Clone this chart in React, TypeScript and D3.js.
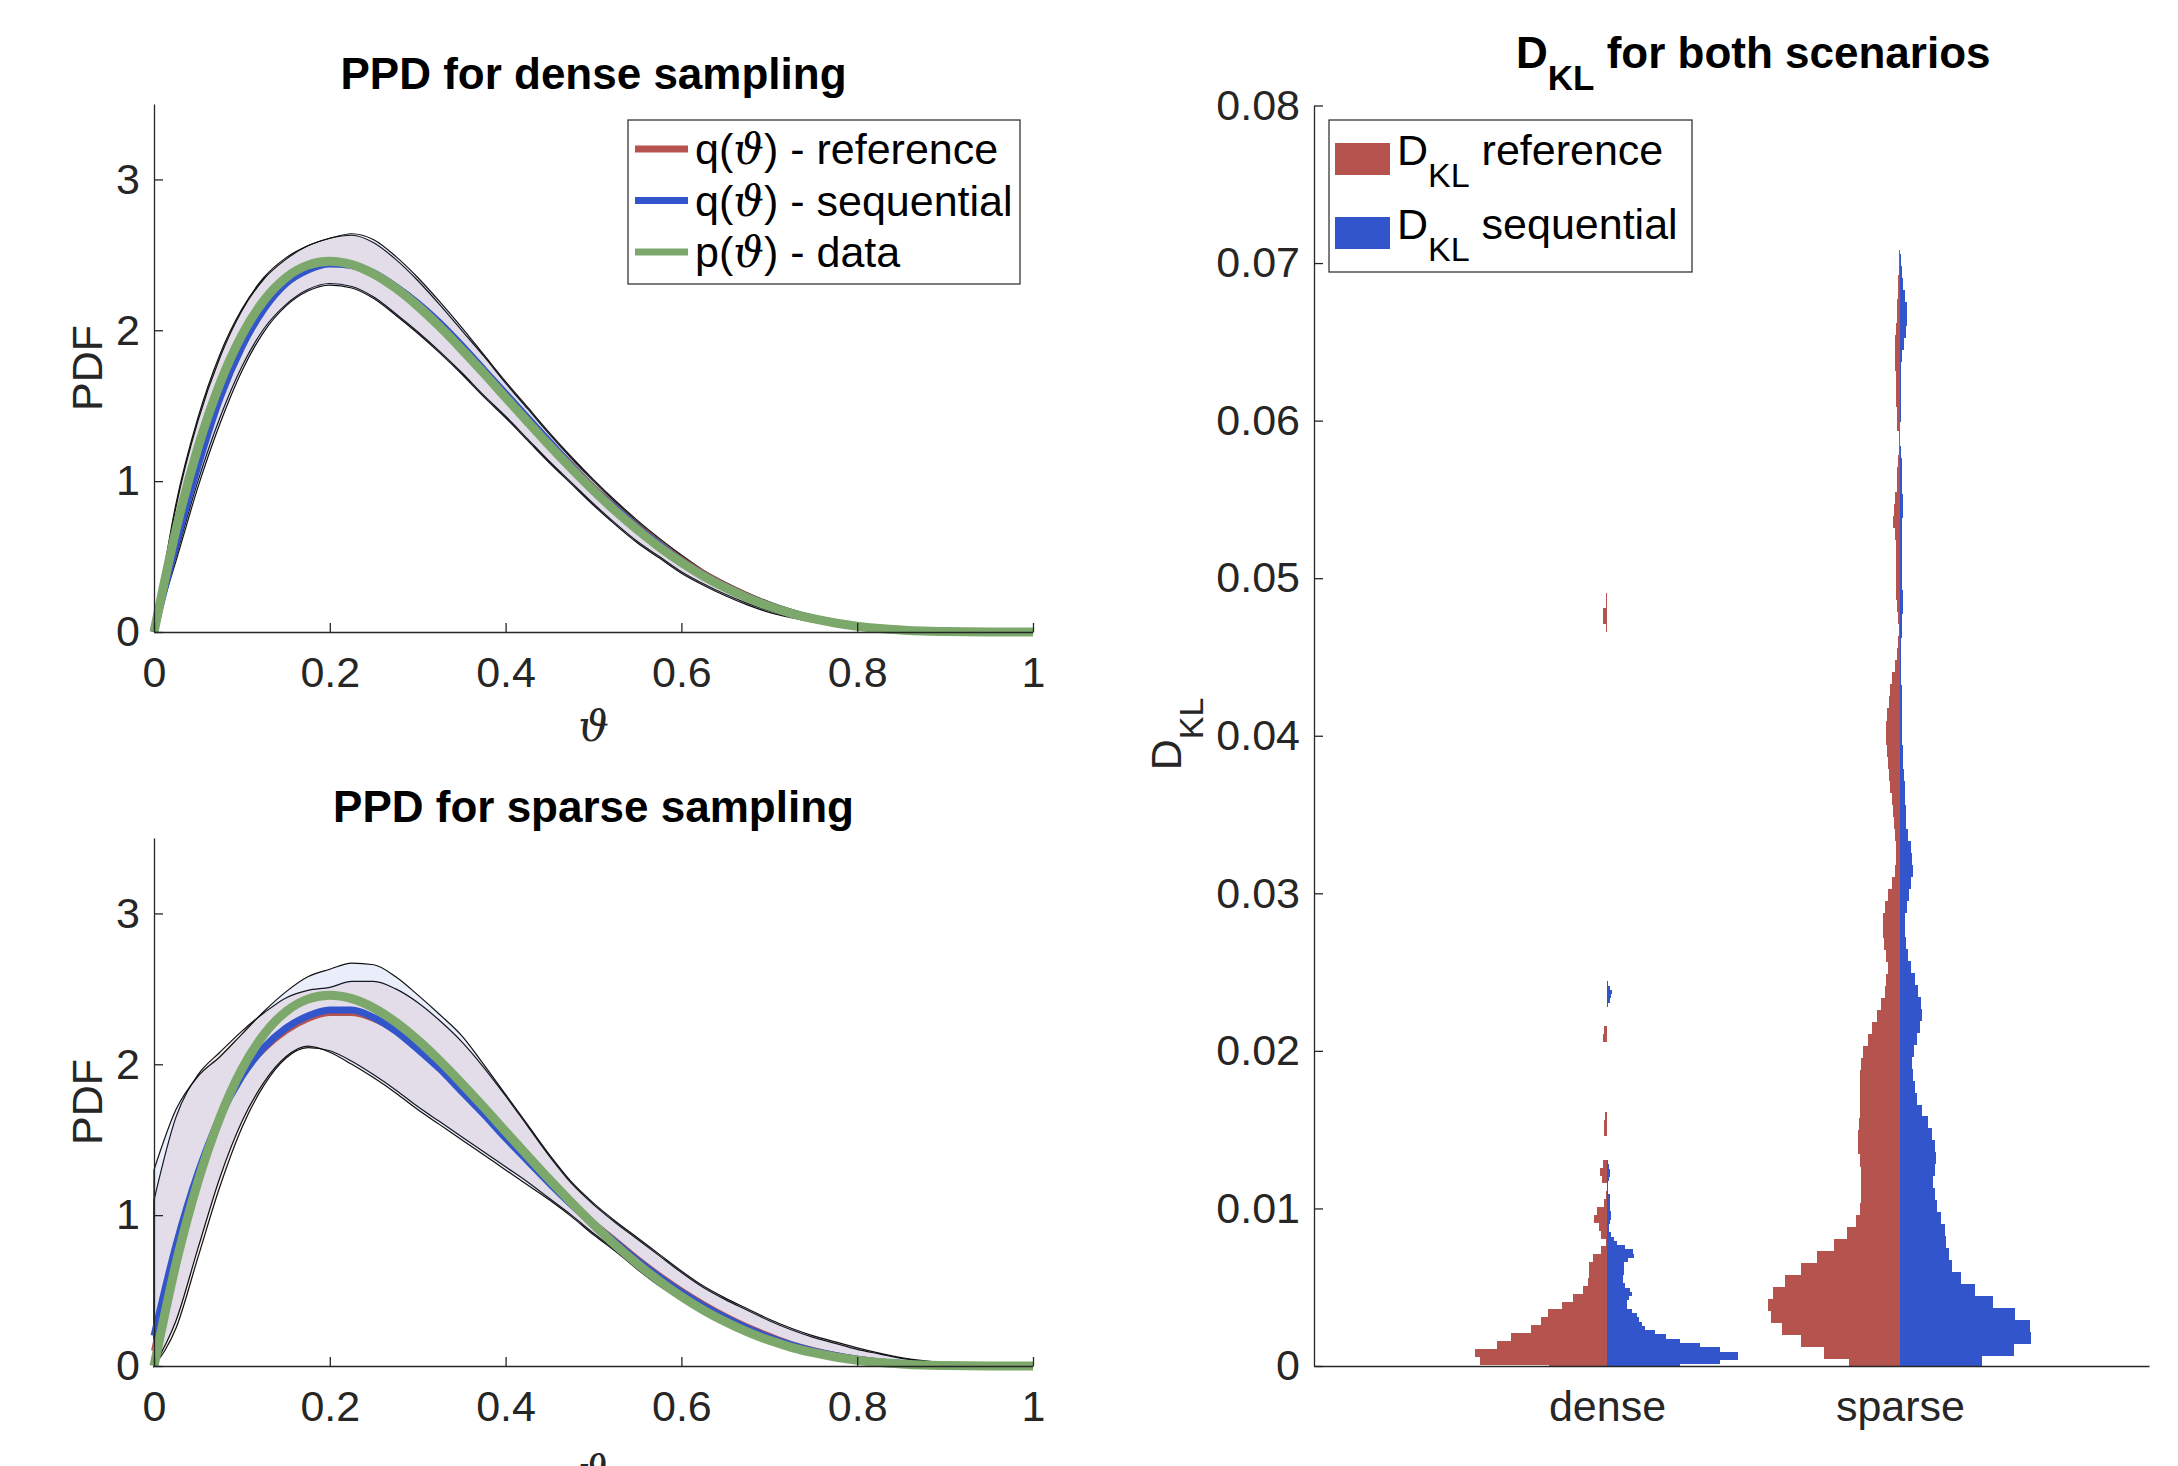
import React, { useEffect, useRef } from 'react';
import * as d3 from 'd3';

// θ grid shared by every PPD curve
const theta = [
  0, 0.025, 0.05, 0.075, 0.1, 0.125, 0.15, 0.175, 0.2, 0.225, 0.25, 0.275, 0.3, 0.325,
  0.35, 0.375, 0.4, 0.425, 0.45, 0.475, 0.5, 0.525, 0.55, 0.575, 0.6, 0.625, 0.65, 0.675,
  0.7, 0.725, 0.75, 0.775, 0.8, 0.825, 0.85, 0.875, 0.9, 0.925, 0.95, 0.975, 1,
];

// p(θ) - data, same target in both scenarios
const pData = [
  0, 0.678, 1.222, 1.647, 1.968, 2.198, 2.349, 2.432, 2.458, 2.435, 2.373, 2.279, 2.161, 2.024,
  1.874, 1.717, 1.555, 1.394, 1.235, 1.083, 0.938, 0.802, 0.677, 0.563, 0.461, 0.371, 0.293, 0.226,
  0.17, 0.124, 0.088, 0.06, 0.038, 0.023, 0.013, 0.006, 0.003, 0.001, 0, 0, 0,
];

// dense sampling
const denseRefMean = [
  0, 0.66, 1.2, 1.63, 1.95, 2.18, 2.33, 2.41, 2.44, 2.43, 2.37, 2.29, 2.18, 2.05,
  1.9, 1.74, 1.58, 1.42, 1.26, 1.11, 0.96, 0.83, 0.7, 0.59, 0.48, 0.39, 0.31, 0.24,
  0.18, 0.13, 0.094, 0.064, 0.041, 0.025, 0.014, 0.007, 0.003, 0.001, 0, 0, 0,
];
const denseSeqMean = [
  0, 0.58, 1.1, 1.55, 1.89, 2.14, 2.31, 2.4, 2.44, 2.43, 2.38, 2.29, 2.18, 2.05,
  1.9, 1.74, 1.58, 1.42, 1.26, 1.1, 0.95, 0.82, 0.69, 0.58, 0.47, 0.38, 0.3, 0.23,
  0.175, 0.128, 0.091, 0.062, 0.04, 0.024, 0.013, 0.007, 0.003, 0.001, 0, 0, 0,
];
const denseRefHi = [
  0, 0.85, 1.42, 1.84, 2.14, 2.35, 2.48, 2.56, 2.61, 2.63, 2.58, 2.47, 2.33, 2.17,
  2.0, 1.83, 1.65, 1.48, 1.31, 1.15, 1.0, 0.86, 0.73, 0.61, 0.5, 0.4, 0.32, 0.25,
  0.19, 0.14, 0.1, 0.07, 0.045, 0.028, 0.016, 0.008, 0.004, 0.002, 0.001, 0, 0,
];
const denseRefLo = [
  0, 0.5, 1.0, 1.42, 1.76, 2.01, 2.17, 2.27, 2.31, 2.29, 2.22, 2.11, 1.99, 1.86,
  1.72, 1.57, 1.43, 1.28, 1.13, 0.99, 0.85, 0.72, 0.6, 0.5, 0.4, 0.32, 0.25, 0.19,
  0.14, 0.1, 0.07, 0.045, 0.028, 0.016, 0.009, 0.004, 0.002, 0, 0, 0, 0,
];
const denseSeqHi = [
  0, 0.83, 1.4, 1.82, 2.13, 2.34, 2.47, 2.56, 2.61, 2.64, 2.6, 2.49, 2.35, 2.19,
  2.02, 1.84, 1.66, 1.49, 1.32, 1.16, 1.01, 0.87, 0.74, 0.62, 0.51, 0.41, 0.33, 0.26,
  0.2, 0.15, 0.11, 0.075, 0.05, 0.031, 0.018, 0.009, 0.004, 0.002, 0.001, 0, 0,
];
const denseSeqLo = [
  0, 0.47, 0.96, 1.38, 1.73, 1.99, 2.16, 2.26, 2.3, 2.28, 2.21, 2.1, 1.98, 1.85,
  1.71, 1.56, 1.42, 1.27, 1.12, 0.98, 0.84, 0.71, 0.59, 0.49, 0.39, 0.31, 0.24, 0.18,
  0.13, 0.095, 0.065, 0.042, 0.026, 0.015, 0.008, 0.004, 0.002, 0, 0, 0, 0,
];

// sparse sampling
const sparseRefMean = [
  0.1, 0.74, 1.26, 1.66, 1.93, 2.1, 2.22, 2.3, 2.34, 2.34, 2.3, 2.22, 2.11, 1.98,
  1.84, 1.69, 1.53, 1.38, 1.23, 1.09, 0.95, 0.83, 0.71, 0.6, 0.5, 0.41, 0.33, 0.26,
  0.2, 0.145, 0.105, 0.073, 0.048, 0.03, 0.017, 0.009, 0.004, 0.002, 0.001, 0, 0,
];
const sparseSeqMean = [
  0.2, 0.8, 1.28, 1.65, 1.92, 2.11, 2.24, 2.32, 2.36, 2.36, 2.31, 2.22, 2.1, 1.97,
  1.82, 1.67, 1.51, 1.36, 1.21, 1.07, 0.94, 0.82, 0.7, 0.59, 0.49, 0.4, 0.32, 0.25,
  0.19, 0.14, 0.1, 0.07, 0.045, 0.028, 0.016, 0.008, 0.004, 0.002, 0.001, 0, 0,
];
const sparseRefHi = [
  1.1, 1.65, 1.93, 2.08, 2.22, 2.34, 2.44, 2.49, 2.51, 2.55, 2.55, 2.5, 2.41, 2.29,
  2.15, 1.98, 1.79, 1.59, 1.39, 1.21, 1.07, 0.95, 0.84, 0.73, 0.62, 0.52, 0.44, 0.37,
  0.3, 0.24, 0.19, 0.15, 0.11, 0.08, 0.05, 0.032, 0.018, 0.009, 0.004, 0.001, 0,
];
const sparseRefLo = [
  0, 0.25, 0.72, 1.19, 1.58, 1.86, 2.04, 2.11, 2.09, 2.02, 1.93, 1.83, 1.72, 1.62,
  1.52, 1.42, 1.32, 1.22, 1.11, 1.0, 0.88, 0.77, 0.66, 0.55, 0.46, 0.37, 0.3, 0.23,
  0.175, 0.125, 0.09, 0.06, 0.038, 0.022, 0.012, 0.006, 0.002, 0, 0, 0, 0,
];
const sparseSeqHi = [
  1.3, 1.7, 1.92, 2.05, 2.2, 2.35, 2.48, 2.58, 2.63, 2.67, 2.66, 2.58, 2.46, 2.33,
  2.19, 2.0, 1.8, 1.6, 1.4, 1.22, 1.08, 0.96, 0.85, 0.74, 0.63, 0.53, 0.45, 0.38,
  0.31, 0.25, 0.2, 0.16, 0.12, 0.085, 0.055, 0.035, 0.02, 0.01, 0.004, 0.001, 0,
];
const sparseSeqLo = [
  0, 0.3, 0.78, 1.25, 1.62, 1.88, 2.05, 2.12, 2.08, 2.0, 1.91, 1.81, 1.7, 1.6,
  1.5, 1.4, 1.3, 1.2, 1.1, 0.99, 0.87, 0.76, 0.64, 0.53, 0.44, 0.36, 0.29, 0.22,
  0.17, 0.12, 0.085, 0.055, 0.035, 0.02, 0.01, 0.005, 0.002, 0, 0, 0, 0,
];

// D_KL histograms: bin width, then runs of [lower edge of first bin, bin heights]
const denseRefBin = 0.0005;
const denseRefRuns: [number, number[]][] = [
  [-0.00041, [58, 127, 132, 110, 96, 76, 66, 59, 45, 34, 24, 19, 18, 18, 14, 6, 1, 6, 8, 13, 10, 3, 1]],
  [0.01159, [5, 7, 4]],
  [0.01459, [3, 3, 2]],
  [0.02059, [4, 3]],
  [0.04659, [1, 4, 4, 1, 0.5]],
];
const denseSeqBin = 0.00027;
const denseSeqRuns: [number, number[]][] = [
  [-0.00016, [73, 113, 131, 131, 113, 93, 73, 59, 48, 38, 35, 32, 30, 25, 20, 20, 22, 25, 23, 18,
    16, 16, 17, 17, 17, 21, 27, 26, 18, 10, 7, 4, 2, 2, 3, 4, 4, 3, 3, 3, 3, 1, 1, 1, 2, 3, 3, 2, 1]],
  [0.02279, [1, 3, 4, 5, 3, 1]],
];
const sparseRefBin = 0.000765;
const sparseRefRuns: [number, number[]][] = [
  [-0.000345, [51, 76, 99, 118, 129, 132, 127, 115, 99, 83, 66, 53, 44, 40, 39, 39, 39, 40, 42, 42,
    41, 40, 40, 40, 40, 39, 37, 32, 28, 23, 19, 15, 14, 12, 14, 16, 17, 17, 15, 12,
    8, 5, 4, 4, 5, 6, 7, 8, 10, 11, 12, 13, 14, 14, 13, 11, 10, 8, 5, 3,
    2, 1, 2, 3, 4, 4, 4, 4, 4, 5, 7, 6, 5, 3, 3, 2, 1, 1, 3, 3,
    4, 4, 4, 5, 5, 5, 4, 3, 3, 2, 2, 0.5, 0.5]],
];
const sparseSeqBin = 0.00076;
const sparseSeqRuns: [number, number[]][] = [
  [-0.000125, [82, 114, 131, 130, 115, 93, 75, 61, 52, 49, 46, 45, 41, 37, 35, 33, 35, 36, 35, 32,
    28, 22, 17, 15, 13, 12, 14, 17, 20, 22, 21, 18, 15, 11, 8, 6, 5, 5, 7, 9,
    11, 13, 12, 11, 8, 6, 6, 5, 5, 4, 3, 3, 2, 2, 2, 2, 2, 1, 1, 1,
    1, 2, 2, 3, 3, 2, 2, 2, 2, 2, 2, 3, 3, 2, 2, 2, 1, 0.5, 0.5, 1,
    1, 1, 1, 1, 2, 4, 6, 7, 7, 5, 3, 2, 1, 0.5]],
];

const xTicks = [0, 0.2, 0.4, 0.6, 0.8, 1];
const xTickLabels = ['0', '0.2', '0.4', '0.6', '0.8', '1'];
const pdfTicks = [0, 1, 2, 3];
const pdfTickLabels = ['0', '1', '2', '3'];
const dklTicks = [0, 0.01, 0.02, 0.03, 0.04, 0.05, 0.06, 0.07, 0.08];
const dklTickLabels = ['0', '0.01', '0.02', '0.03', '0.04', '0.05', '0.06', '0.07', '0.08'];
const categories = ['dense', 'sparse'];
const ppdLegend: [string, string][] = [['q', 'reference'], ['q', 'sequential'], ['p', 'data']];
const dklLegend = ['reference', 'sequential'];

const FONT = '"Liberation Sans", Arial, Helvetica, sans-serif';
const SERIF = '"DejaVu Serif", "Liberation Serif", serif';
const INK = '#262626';
const RED = '#b5534f';
const BLUE = '#3355cc';
const GREEN = '#7da86b';
const FS = 43;

const App = () => {
  const ref = useRef<SVGSVGElement>(null);

  useEffect(() => {
    const svg = d3.select(ref.current);
    svg.selectAll('*').remove();
    svg.attr('font-family', FONT);

    const styleAxis = (g: any) => {
      g.attr('font-size', FS).attr('font-family', FONT).style('color', INK);
      g.selectAll('path, line').attr('stroke-width', 1.3);
    };

    // ---- PPD panels ----
    const x = d3.scaleLinear().domain([0, 1]).range([154, 1033]);
    const idx = d3.range(theta.length);
    const panels = [
      {
        bottom: 632, top: 104, title: 'PPD for dense sampling', titleY: 89, xlabY: 741, ylabY: 368,
        refMean: denseRefMean, seqMean: denseSeqMean,
        refLo: denseRefLo, refHi: denseRefHi, seqLo: denseSeqLo, seqHi: denseSeqHi, legend: true,
      },
      {
        bottom: 1366, top: 838, title: 'PPD for sparse sampling', titleY: 822, xlabY: 1486, ylabY: 1102,
        refMean: sparseRefMean, seqMean: sparseSeqMean,
        refLo: sparseRefLo, refHi: sparseRefHi, seqLo: sparseSeqLo, seqHi: sparseSeqHi, legend: false,
      },
    ];

    panels.forEach(p => {
      const y = d3.scaleLinear().domain([0, 3.5]).range([p.bottom, p.top]);
      const g = svg.append('g');
      const band = (lo: number[], hi: number[]) =>
        d3.area<number>().x(i => x(theta[i])).y0(i => y(lo[i])).y1(i => y(hi[i])).curve(d3.curveMonotoneX)(idx);
      const line = (v: number[]) =>
        d3.line<number>().x(i => x(theta[i])).y(i => y(v[i])).curve(d3.curveMonotoneX)(idx);

      // uncertainty bands
      g.append('path').attr('d', band(p.refLo, p.refHi))
        .attr('fill', '#b34d4d').attr('fill-opacity', 0.1)
        .attr('stroke', '#111').attr('stroke-width', 1.2);
      g.append('path').attr('d', band(p.seqLo, p.seqHi))
        .attr('fill', BLUE).attr('fill-opacity', 0.1)
        .attr('stroke', '#111').attr('stroke-width', 1.2);

      // mean curves
      [[p.refMean, RED, 6], [p.seqMean, BLUE, 7], [pData, GREEN, 9]].forEach(([v, c, w]: any) => {
        g.append('path').attr('d', line(v)).attr('fill', 'none')
          .attr('stroke', c).attr('stroke-width', w).attr('stroke-linejoin', 'round');
      });

      g.append('g').attr('transform', `translate(0,${p.bottom})`)
        .call(d3.axisBottom(x).tickValues(xTicks).tickFormat((_, i) => xTickLabels[i])
          .tickSizeInner(-9).tickSizeOuter(0).tickPadding(24))
        .call(styleAxis);
      g.append('g').attr('transform', `translate(${x(0)},0)`)
        .call(d3.axisLeft(y).tickValues(pdfTicks).tickFormat((_, i) => pdfTickLabels[i])
          .tickSizeInner(-9).tickSizeOuter(0).tickPadding(14))
        .call(styleAxis);

      g.append('text').attr('x', (x(0) + x(1)) / 2).attr('y', p.titleY)
        .attr('text-anchor', 'middle').attr('font-size', 44).attr('font-weight', 'bold')
        .attr('fill', '#000').text(p.title);
      g.append('text').attr('x', (x(0) + x(1)) / 2).attr('y', p.xlabY)
        .attr('text-anchor', 'middle').attr('font-size', FS).attr('font-family', SERIF)
        .attr('font-style', 'italic').attr('fill', INK).text('ϑ');
      g.append('text').attr('transform', `translate(102,${p.ylabY}) rotate(-90)`)
        .attr('text-anchor', 'middle').attr('font-size', FS).attr('fill', INK).text('PDF');

      if (p.legend) {
        const lg = g.append('g');
        lg.append('rect').attr('x', 628).attr('y', 120).attr('width', 392).attr('height', 164)
          .attr('fill', '#fff').attr('stroke', INK).attr('stroke-width', 1.2);
        [RED, BLUE, GREEN].forEach((c, i) => {
          const cy = 149 + i * 51.5;
          lg.append('line').attr('x1', 635).attr('x2', 688).attr('y1', cy).attr('y2', cy)
            .attr('stroke', c).attr('stroke-width', 7);
          const t = lg.append('text').attr('x', 695).attr('y', cy + 15)
            .attr('font-size', FS).attr('fill', '#000');
          t.append('tspan').text(`${ppdLegend[i][0]}(`);
          t.append('tspan').attr('font-family', SERIF).attr('font-style', 'italic').text('ϑ');
          t.append('tspan').text(`) - ${ppdLegend[i][1]}`);
        });
      }
    });

    // ---- D_KL violin histograms ----
    const xc = d3.scaleLinear().domain([0, 2.85]).range([1314, 2149]);
    const yk = d3.scaleLinear().domain([0, 0.08]).range([1366, 105.5]);
    const wk = d3.scaleLinear().domain([0, 132]).range([0, xc(1.45) - xc(1)]);
    const gk = svg.append('g');

    const halves: [number, number, string, number, [number, number[]][]][] = [
      [1, -1, RED, denseRefBin, denseRefRuns],
      [1, 1, BLUE, denseSeqBin, denseSeqRuns],
      [2, -1, RED, sparseRefBin, sparseRefRuns],
      [2, 1, BLUE, sparseSeqBin, sparseSeqRuns],
    ];
    halves.forEach(([pos, side, color, bin, runs]) => {
      const cx = xc(pos);
      const bars = runs.flatMap(([from, counts]) =>
        counts.map((c, i) => ({ lo: Math.max(0, from + i * bin), hi: from + (i + 1) * bin, c })));
      gk.append('g').selectAll('rect').data(bars.filter(b => b.c > 0)).enter().append('rect')
        .attr('x', b => (side < 0 ? cx - wk(b.c) : cx))
        .attr('y', b => yk(b.hi))
        .attr('width', b => wk(b.c))
        .attr('height', b => yk(b.lo) - yk(b.hi))
        .attr('fill', color)
        .attr('shape-rendering', 'crispEdges');
    });

    gk.append('g').attr('transform', `translate(0,${yk(0)})`)
      .call(d3.axisBottom(xc).tickValues([1, 2]).tickFormat((_, i) => categories[i])
        .tickSize(0).tickPadding(24))
      .call(styleAxis);
    gk.append('g').attr('transform', `translate(${xc.range()[0]},0)`)
      .call(d3.axisLeft(yk).tickValues(dklTicks).tickFormat((_, i) => dklTickLabels[i])
        .tickSizeInner(-9).tickSizeOuter(0).tickPadding(14))
      .call(styleAxis);

    const title = gk.append('text').attr('x', 1516).attr('y', 68)
      .attr('font-size', 44).attr('font-weight', 'bold').attr('fill', '#000');
    title.append('tspan').text('D');
    title.append('tspan').attr('dy', 22).attr('font-size', 35).text('KL');
    title.append('tspan').attr('dy', -22).text(' for both scenarios');

    const ylab = gk.append('text').attr('transform', 'translate(1181,734) rotate(-90)')
      .attr('text-anchor', 'middle').attr('font-size', FS).attr('fill', INK);
    ylab.append('tspan').text('D');
    ylab.append('tspan').attr('dy', 22).attr('font-size', 34).text('KL');

    const lk = gk.append('g');
    lk.append('rect').attr('x', 1329).attr('y', 120).attr('width', 363).attr('height', 152)
      .attr('fill', '#fff').attr('stroke', INK).attr('stroke-width', 1.2);
    [RED, BLUE].forEach((c, i) => {
      const top = 143 + i * 74;
      lk.append('rect').attr('x', 1335).attr('y', top).attr('width', 55).attr('height', 32).attr('fill', c);
      const t = lk.append('text').attr('x', 1397).attr('y', top + 22).attr('font-size', FS).attr('fill', '#000');
      t.append('tspan').text('D');
      t.append('tspan').attr('dy', 22).attr('font-size', 34).text('KL');
      t.append('tspan').attr('dy', -22).text(` ${dklLegend[i]}`);
    });
  }, []);

  return (
    <svg ref={ref} width={2178} height={1466}
      style={{ position: 'absolute', left: 0, top: 0, background: '#fff', display: 'block' }} />
  );
};

export default App;
